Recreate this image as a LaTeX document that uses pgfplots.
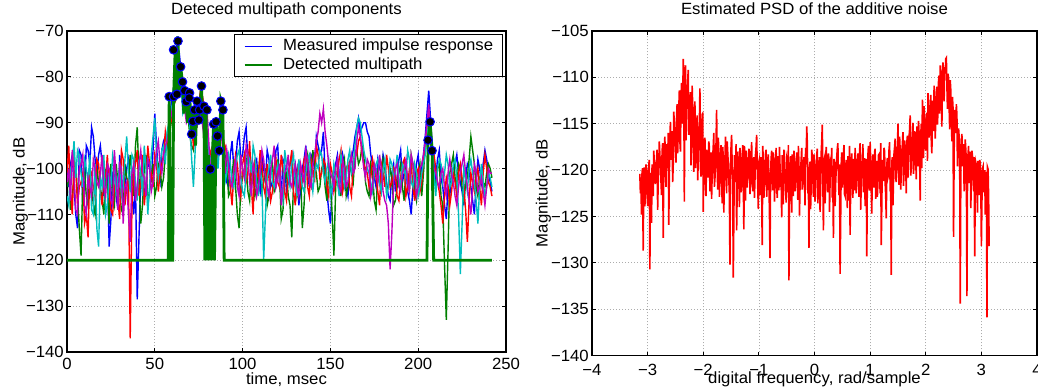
\documentclass[border=0pt]{standalone}
\usepackage{fontspec}
\setmainfont{Liberation Sans}[FakeStretch=1.03]
\usepackage{pgfplots}
\usepackage{pgfplotstable}
\pgfplotsset{compat=1.18}
\definecolor{mblue}{rgb}{0,0,1}
\definecolor{mgreen}{rgb}{0,0.5,0}
\definecolor{mred}{rgb}{1,0,0}
\definecolor{mcyan}{rgb}{0,0.75,0.75}
\definecolor{mmag}{rgb}{0.75,0,0.75}

\pgfplotstableread{
t b g r c m
0 -98 -104 -101 -106 -103
1 -104 -101 -95 -108 -100
2 -99 -109 -105 -100 -107
3 -97 -106 -110 -99 -96
4 -104 -102 -98 -94 -101
5 -110 -99 -100 -102 -109
6 -113 -106 -108 -96 -110
7 -96 -113 -104 -97 -100
8 -97 -119 -103 -101 -99
9 -108 -102 -101 -104 -97
10 -105 -100 -112 -98 -108
11 -95 -106 -110 -100 -110
12 -96 -108 -115 -103 -102
13 -99 -101 -100 -97 -104
14 -91 -104 -101 -109 -106
15 -93 -108 -104 -110 -98
16 -98 -110 -106 -99 -100
17 -101 -100 -98 -113 -103
18 -97 -103 -99 -117 -104
19 -95 -104 -105 -102 -101
20 -99 -107 -108 -104 -97
21 -106 -110 -102 -97 -104
22 -103 -100 -102 -110 -106
23 -100 -104 -97 -108 -99
24 -117 -112 -105 -101 -100
25 -111 -99 -109 -104 -107
26 -101 -106 -110 -97 -108
27 -100 -108 -104 -99 -96
28 -106 -99 -103 -106 -102
29 -109 -103 -107 -102 -109
30 -97 -105 -111 -100 -99
31 -101 -109 -96 -106 -100
32 -108 -110 -98 -104 -112
33 -105 -99 -108 -98 -104
34 -100 -102 -104 -93 -103
35 -98 -103 -102 -101 -110
36 -104 -97 -137 -105 -116
37 -106 -101 -108 -97 -101
38 -110 -106 -101 -98 -99
39 -103 -95 -99 -103 -107
40 -128.5 -91 -96 -107 -104
41 -115 -102 -106 -98 -99
42 -102 -112 -103 -101 -96
43 -99 -108 -97 -106 -101
44 -106 -100 -108 -95 -102
45 -104 -97 -104 -100 -106
46 -98 -108 -95 -110 -98
47 -100 -105 -99 -104 -99
48 -103 -102 -101 -97 -105
49 -96 -99 -104 -93 -103
50 -88 -106 -97 -89 -100
51 -95 -104 -99 -97 -96
52 -101 -99 -105 -102 -94
53 -103 -100 -101 -99 -99
54 -96 -104 -99 -96 -101
55 -94 -102 -97 -95 -97
56 -93 -97 -92 -99 -95
57 -95 -93 -95 -92 -94
58 -91 -95 -94 -90 -92
59 -87 -91 -90 -88 -89
60 -84 -88 -89 -86 -87
61 -82 -86 -86 -84 -85
62 -80 -85 -84 -82 -83
63 -77 -80 -82 -79 -81
64 -75 -78 -80 -77 -79
65 -79 -83 -81 -82 -82
66 -82 -86 -84 -88 -85
67 -84 -85 -86 -87 -87
68 -86 -84 -88 -85 -90
69 -88 -89 -88 -88 -89
70 -90 -93 -87 -91 -88
71 -92 -95 -91 -98 -90
72 -93 -96 -95 -104 -92
73 -90 -92 -93 -96 -91
74 -87 -89 -90 -88 -91
75 -85 -87 -86 -86 -89
76 -84 -86 -83 -85 -88
77 -86 -88 -84 -87 -90
78 -88 -91 -86 -90 -93
79 -91 -91 -93 -92 -91
80 -95 -92 -99 -94 -89
81 -97 -97 -98 -97 -96
82 -98 -101 -96 -99 -102
83 -95 -98 -95 -95 -99
84 -92 -95 -94 -91 -97
85 -94 -94 -96 -96 -96
86 -97 -93 -98 -100 -95
87 -93 -90 -95 -94 -94
88 -90 -88 -92 -89 -93
89 -95 -93 -94 -96 -97
90 -99 -97 -95 -103 -101
91 -103 -99 -97 -101 -96
92 -104 -106 -100 -97 -99
93 -97 -105 -104 -99 -103
94 -94 -101 -108 -103 -104
95 -100 -98 -101 -104 -100
96 -99 -104 -97 -100 -98
97 -94 -110 -99 -97 -104
98 -92 -113 -104 -96 -106
99 -98 -104 -106 -102 -97
100 -97 -102 -99 -105 -100
101 -93 -100 -97 -106 -102
102 -91 -98 -103 -101 -95
103 -98 -105 -101 -97 -97
104 -96 -107 -94 -98 -103
105 -100 -99 -104 -101 -106
106 -103 -100 -110 -95 -99
107 -99 -106 -98 -97 -101
108 -98 -104 -101 -103 -106
109 -103 -101 -102 -106 -104
110 -105 -97 -96 -100 -101
111 -97 -105 -99 -103 -96
112 -100 -103 -104 -120 -98
113 -103 -100 -106 -110 -102
114 -96 -108 -99 -102 -104
115 -98 -106 -102 -100 -106
116 -104 -101 -107 -97 -100
117 -103 -99 -105 -103 -98
118 -101 -105 -100 -104 -95
119 -96 -104 -98 -101 -104
120 -95 -98 -103 -99 -102
121 -103 -101 -104 -102 -99
122 -106 -111 -97 -105 -108
123 -98 -109 -100 -107 -104
124 -99 -102 -105 -96 -101
125 -105 -101 -107 -99 -100
126 -103 -106 -101 -102 -97
127 -99 -108 -99 -104 -103
128 -97 -115 -96 -99 -104
129 -104 -103 -105 -97 -101
130 -102 -100 -108 -103 -99
131 -100 -106 -101 -106 -104
132 -108 -104 -99 -98 -106
133 -105 -100 -104 -101 -99
134 -100 -113 -103 -104 -101
135 -98 -108 -98 -105 -103
136 -95 -99 -97 -101 -96
137 -101 -97 -104 -98 -98
138 -104 -103 -106 -97 -103
139 -97 -104 -98 -102 -104
140 -98 -96 -100 -105 -99
141 -100 -99 -103 -101 -97
142 -93 -101 -95 -99 -94
143 -95 -105 -97 -100 -92
144 -97 -104 -102 -96 -88
145 -96 -100 -101 -97 -90
146 -92 -99 -98 -101 -87
147 -101 -104 -99 -103 -92
148 -105 -107 -104 -100 -95
149 -109 -100 -106 -98 -99
150 -112 -102 -99 -106 -101
151 -104 -110 -101 -104 -102
152 -101 -119 -105 -99 -104
153 -99 -104 -103 -101 -100
154 -97 -100 -101 -103 -98
155 -101 -103 -98 -106 -104
156 -103 -106 -96 -97 -105
157 -97 -100 -105 -99 -98
158 -99 -98 -103 -104 -100
159 -104 -106 -100 -102 -104
160 -106 -104 -99 -98 -103
161 -100 -99 -104 -96 -99
162 -98 -101 -106 -101 -97
163 -96 -103 -99 -100 -101
164 -93 -97 -96 -95 -100
165 -91 -96 -97 -91 -94
166 -89 -99 -94 -89 -91
167 -92 -98 -93 -90 -93
168 -91 -95 -97 -93 -96
169 -90 -97 -99 -96 -100
170 -90 -103 -100 -98 -102
171 -92 -105 -101 -100 -98
172 -93 -106 -104 -101 -99
173 -97 -99 -102 -103 -106
174 -99 -101 -98 -105 -104
175 -102 -107 -100 -101 -99
176 -104 -109 -102 -99 -101
177 -98 -101 -105 -98 -103
178 -100 -103 -108 -103 -97
179 -101 -105 -99 -105 -100
180 -97 -98 -101 -100 -105
181 -99 -100 -104 -98 -107
182 -103 -105 -97 -106 -108
183 -106 -104 -100 -104 -112
184 -107 -100 -104 -98 -122
185 -101 -102 -103 -99 -114
186 -99 -108 -100 -102 -103
187 -105 -107 -101 -101 -100
188 -102 -104 -106 -97 -99
189 -98 -101 -107 -102 -104
190 -96 -99 -102 -104 -105
191 -103 -104 -99 -99 -101
192 -101 -107 -98 -100 -100
193 -99 -100 -106 -102 -98
194 -105 -102 -104 -96 -103
195 -107 -105 -100 -98 -105
196 -110 -97 -99 -103 -97
197 -104 -99 -104 -104 -99
198 -103 -105 -107 -99 -102
199 -99 -107 -101 -101 -106
200 -97 -101 -100 -106 -104
201 -102 -99 -105 -104 -100
202 -100 -106 -103 -101 -99
203 -97 -101 -98 -99 -97
204 -93 -95 -96 -97 -94
205 -88 -93 -92 -93 -90
206 -83 -91 -88 -90 -86
207 -89 -94 -92 -92 -92
208 -95 -98 -97 -94 -99
209 -99 -102 -97 -101 -100
210 -102 -104 -100 -106 -101
211 -98 -100 -103 -100 -103
212 -96 -99 -105 -98 -104
213 -102 -106 -108 -99 -101
214 -104 -108 -112 -103 -100
215 -108 -121 -106 -101 -104
216 -111 -133 -102 -97 -106
217 -104 -118 -104 -99 -101
218 -106 -101 -108 -104 -98
219 -101 -99 -105 -103 -101
220 -100 -97 -101 -99 -103
221 -99 -102 -103 -98 -106
222 -97 -104 -106 -102 -108
223 -101 -99 -101 -110 -104
224 -103 -100 -99 -123 -101
225 -105 -104 -102 -112 -99
226 -108 -107 -104 -100 -97
227 -102 -103 -109 -102 -101
228 -99 -102 -116 -105 -104
229 -100 -98 -107 -100 -107
230 -104 -93 -101 -98 -110
231 -107 -96 -103 -101 -104
232 -110 -99 -105 -103 -99
233 -103 -104 -102 -107 -101
234 -98 -106 -100 -112 -105
235 -100 -102 -104 -104 -104
236 -103 -101 -108 -99 -102
237 -99 -103 -101 -103 -105
238 -96 -104 -97 -106 -108
239 -98 -101 -100 -104 -104
240 -101 -99 -103 -101 -100
241 -103 -100 -104 -102 -101
242 -105 -102 -106 -104 -101
}\leftdata

\pgfplotstableread{
x y
-3.14 -120.4
-3.13 -122.5
-3.12 -121.8
-3.11 -124.8
-3.10 -120.2
-3.09 -119.8
-3.08 -128.7
-3.07 -121.5
-3.06 -119.7
-3.05 -123.9
-3.04 -122.6
-3.03 -119.4
-3.02 -120.1
-3.01 -121.8
-3.00 -123.9
-2.99 -120.6
-2.98 -119.5
-2.97 -118.9
-2.96 -130.7
-2.95 -122.4
-2.94 -120.3
-2.93 -125.7
-2.92 -119.4
-2.91 -120.0
-2.90 -122.8
-2.89 -117.9
-2.88 -119.2
-2.87 -121.1
-2.86 -121.5
-2.85 -119.5
-2.84 -118.9
-2.83 -117.8
-2.82 -124.3
-2.81 -121.3
-2.80 -119.6
-2.79 -116.9
-2.78 -118.4
-2.77 -119.3
-2.76 -121.2
-2.75 -122.7
-2.74 -118.0
-2.73 -117.1
-2.72 -127.3
-2.71 -119.9
-2.70 -117.6
-2.69 -116.4
-2.68 -120.4
-2.67 -121.8
-2.66 -117.2
-2.65 -118.3
-2.64 -119.8
-2.63 -116.0
-2.62 -125.9
-2.61 -120.6
-2.60 -116.5
-2.59 -114.8
-2.58 -118.9
-2.57 -117.5
-2.56 -115.8
-2.55 -121.3
-2.54 -119.4
-2.53 -113.7
-2.52 -115.1
-2.51 -116.4
-2.50 -117.8
-2.49 -119.2
-2.48 -114.3
-2.47 -112.9
-2.46 -118.2
-2.45 -115.8
-2.44 -113.5
-2.43 -111.4
-2.42 -116.9
-2.41 -118.0
-2.40 -112.2
-2.39 -110.6
-2.38 -115.0
-2.37 -113.5
-2.36 -108.0
-2.35 -111.0
-2.34 -123.4
-2.33 -109.4
-2.32 -108.7
-2.31 -116.8
-2.30 -113.9
-2.29 -111.7
-2.28 -110.5
-2.27 -109.2
-2.26 -116.2
-2.25 -114.9
-2.24 -112.8
-2.23 -111.6
-2.22 -119.5
-2.21 -115.4
-2.20 -110.9
-2.19 -113.1
-2.18 -117.3
-2.17 -120.2
-2.16 -114.2
-2.15 -112.6
-2.14 -119.8
-2.13 -117.8
-2.12 -115.6
-2.11 -114.1
-2.10 -121.1
-2.09 -118.9
-2.08 -116.0
-2.07 -115.2
-2.06 -111.2
-2.05 -119.8
-2.04 -120.7
-2.03 -116.7
-2.02 -114.0
-2.01 -113.9
-2.00 -124.5
-1.99 -119.3
-1.98 -117.2
-1.97 -116.5
-1.96 -121.4
-1.95 -122.8
-1.94 -117.8
-1.93 -118.3
-1.92 -119.6
-1.91 -120.8
-1.90 -116.9
-1.89 -117.6
-1.88 -122.3
-1.87 -119.4
-1.86 -118.1
-1.85 -123.1
-1.84 -120.5
-1.83 -118.7
-1.82 -117.4
-1.81 -116.0
-1.80 -121.8
-1.79 -120.9
-1.78 -118.6
-1.77 -117.1
-1.76 -113.5
-1.75 -119.6
-1.74 -122.1
-1.73 -116.5
-1.72 -118.0
-1.71 -122.9
-1.70 -120.9
-1.69 -119.0
-1.68 -117.3
-1.67 -120.4
-1.66 -123.6
-1.65 -117.5
-1.64 -118.7
-1.63 -124.6
-1.62 -120.2
-1.61 -118.8
-1.60 -116.4
-1.59 -120.1
-1.58 -122.5
-1.57 -116.9
-1.56 -118.1
-1.55 -119.5
-1.54 -121.0
-1.53 -122.7
-1.52 -130.2
-1.51 -119.2
-1.50 -117.5
-1.49 -116.2
-1.48 -119.9
-1.47 -121.5
-1.46 -131.6
-1.45 -125.0
-1.44 -118.4
-1.43 -119.7
-1.42 -121.3
-1.41 -117.2
-1.40 -126.5
-1.39 -122.1
-1.38 -118.0
-1.37 -119.4
-1.36 -120.7
-1.35 -124.0
-1.34 -117.6
-1.33 -119.0
-1.32 -122.4
-1.31 -121.6
-1.30 -118.9
-1.29 -117.3
-1.28 -121.2
-1.27 -126.4
-1.26 -117.4
-1.25 -119.8
-1.24 -123.3
-1.23 -117.9
-1.22 -119.0
-1.21 -121.9
-1.20 -120.8
-1.19 -119.3
-1.18 -117.7
-1.17 -118.1
-1.16 -122.6
-1.15 -120.5
-1.14 -118.5
-1.13 -117.0
-1.12 -121.4
-1.11 -122.3
-1.10 -119.2
-1.09 -118.6
-1.08 -123.0
-1.07 -120.9
-1.06 -118.3
-1.05 -117.5
-1.04 -116.2
-1.03 -119.6
-1.02 -121.9
-1.01 -124.2
-1.00 -119.1
-0.99 -118.8
-0.98 -122.7
-0.97 -120.3
-0.96 -118.6
-0.95 -121.9
-0.94 -128.1
-0.93 -117.4
-0.92 -119.4
-0.91 -123.0
-0.90 -121.6
-0.89 -119.6
-0.88 -118.2
-0.87 -117.8
-0.86 -122.9
-0.85 -121.4
-0.84 -119.0
-0.83 -118.3
-0.82 -121.3
-0.81 -124.4
-0.80 -129.5
-0.79 -120.5
-0.78 -118.8
-0.77 -117.9
-0.76 -120.6
-0.75 -122.2
-0.74 -118.1
-0.73 -119.1
-0.72 -123.4
-0.71 -121.3
-0.70 -119.3
-0.69 -117.6
-0.68 -121.7
-0.67 -123.0
-0.66 -118.5
-0.65 -119.9
-0.64 -122.2
-0.63 -117.5
-0.62 -119.6
-0.61 -121.8
-0.60 -120.9
-0.59 -125.1
-0.58 -118.4
-0.57 -119.3
-0.56 -123.7
-0.55 -117.8
-0.54 -119.2
-0.53 -120.9
-0.52 -121.5
-0.51 -123.5
-0.50 -118.7
-0.49 -119.0
-0.48 -122.4
-0.47 -117.3
-0.46 -131.9
-0.45 -122.9
-0.44 -119.8
-0.43 -118.5
-0.42 -121.2
-0.41 -124.6
-0.40 -118.3
-0.39 -119.7
-0.38 -122.8
-0.37 -117.9
-0.36 -119.5
-0.35 -122.3
-0.34 -121.0
-0.33 -119.4
-0.32 -118.1
-0.31 -121.2
-0.30 -123.2
-0.29 -117.4
-0.28 -119.4
-0.27 -124.9
-0.26 -121.6
-0.25 -120.1
-0.24 -118.9
-0.23 -117.6
-0.22 -122.1
-0.21 -121.4
-0.20 -119.7
-0.19 -118.6
-0.18 -120.8
-0.17 -123.8
-0.16 -117.6
-0.15 -119.3
-0.14 -115.3
-0.13 -117.0
-0.12 -122.5
-0.11 -121.1
-0.10 -128.4
-0.09 -119.7
-0.08 -119.1
-0.07 -124.2
-0.06 -121.7
-0.05 -117.8
-0.04 -118.6
-0.03 -120.6
-0.02 -122.9
-0.01 -118.3
0.00 -119.8
0.01 -123.4
0.02 -121.3
0.03 -119.6
0.04 -118.4
0.05 -117.7
0.06 -123.6
0.07 -121.2
0.08 -119.5
0.09 -118.6
0.10 -124.5
0.11 -122.0
0.12 -118.2
0.13 -116.9
0.14 -115.1
0.15 -120.9
0.16 -126.5
0.17 -119.0
0.18 -118.7
0.19 -123.6
0.20 -121.8
0.21 -117.5
0.22 -119.3
0.23 -120.7
0.24 -122.4
0.25 -118.2
0.26 -118.9
0.27 -124.5
0.28 -121.1
0.29 -119.3
0.30 -119.6
0.31 -117.6
0.32 -123.0
0.33 -121.6
0.34 -127.3
0.35 -118.8
0.36 -119.2
0.37 -123.9
0.38 -121.5
0.39 -119.9
0.40 -118.6
0.41 -117.7
0.42 -117.1
0.43 -121.0
0.44 -122.7
0.45 -119.4
0.46 -131.2
0.47 -125.3
0.48 -119.4
0.49 -118.1
0.50 -121.9
0.51 -120.4
0.52 -118.3
0.53 -117.3
0.54 -122.6
0.55 -122.8
0.56 -119.9
0.57 -118.9
0.58 -121.0
0.59 -124.1
0.60 -118.5
0.61 -119.7
0.62 -123.3
0.63 -117.4
0.64 -127.0
0.65 -121.5
0.66 -119.1
0.67 -118.2
0.68 -121.4
0.69 -123.0
0.70 -118.8
0.71 -119.8
0.72 -122.2
0.73 -117.6
0.74 -119.5
0.75 -122.5
0.76 -120.7
0.77 -119.2
0.78 -118.2
0.79 -120.8
0.80 -122.9
0.81 -118.0
0.82 -117.1
0.83 -124.3
0.84 -121.6
0.85 -119.5
0.86 -119.0
0.87 -117.2
0.88 -122.4
0.89 -121.7
0.90 -118.7
0.91 -123.9
0.92 -121.2
0.93 -118.8
0.94 -129.3
0.95 -120.6
0.96 -118.4
0.97 -117.4
0.98 -121.8
0.99 -122.2
1.00 -117.0
1.01 -119.0
1.02 -122.1
1.03 -124.7
1.04 -119.3
1.05 -118.3
1.06 -120.6
1.07 -121.9
1.08 -118.1
1.09 -117.7
1.10 -123.1
1.11 -120.3
1.12 -119.0
1.13 -122.9
1.14 -121.4
1.15 -118.4
1.16 -118.3
1.17 -119.9
1.18 -122.5
1.19 -117.1
1.20 -128.1
1.21 -123.6
1.22 -118.9
1.23 -119.4
1.24 -121.2
1.25 -117.6
1.26 -118.0
1.27 -121.4
1.28 -122.7
1.29 -125.2
1.30 -119.4
1.31 -118.7
1.32 -120.8
1.33 -120.5
1.34 -117.8
1.35 -117.0
1.36 -122.0
1.37 -121.9
1.38 -131.3
1.39 -119.1
1.40 -118.6
1.41 -123.8
1.42 -121.1
1.43 -118.2
1.44 -117.5
1.45 -116.6
1.46 -120.9
1.47 -121.3
1.48 -118.2
1.49 -118.5
1.50 -115.0
1.51 -119.9
1.52 -121.6
1.53 -116.4
1.54 -117.9
1.55 -122.1
1.56 -120.3
1.57 -118.0
1.58 -117.2
1.59 -115.9
1.60 -121.7
1.61 -120.2
1.62 -116.8
1.63 -117.6
1.64 -119.5
1.65 -122.5
1.66 -117.0
1.67 -116.3
1.68 -120.8
1.69 -118.9
1.70 -116.4
1.71 -115.6
1.72 -114.1
1.73 -120.6
1.74 -119.7
1.75 -117.3
1.76 -116.2
1.77 -114.9
1.78 -120.4
1.79 -119.2
1.80 -115.8
1.81 -116.6
1.82 -118.9
1.83 -121.0
1.84 -115.3
1.85 -117.1
1.86 -119.6
1.87 -114.7
1.88 -116.1
1.89 -118.9
1.90 -123.3
1.91 -116.3
1.92 -115.0
1.93 -119.8
1.94 -112.4
1.95 -115.5
1.96 -118.7
1.97 -113.1
1.98 -114.6
1.99 -117.4
2.00 -117.9
2.01 -114.9
2.02 -113.8
2.03 -119.0
2.04 -111.7
2.05 -113.6
2.06 -116.5
2.07 -115.3
2.08 -113.2
2.09 -111.9
2.10 -117.0
2.11 -118.2
2.12 -112.5
2.13 -113.8
2.14 -115.8
2.15 -110.9
2.16 -111.9
2.17 -116.6
2.18 -114.7
2.19 -112.7
2.20 -111.0
2.21 -115.1
2.22 -113.6
2.23 -110.4
2.24 -109.8
2.25 -113.9
2.26 -108.7
2.27 -110.1
2.28 -112.4
2.29 -115.3
2.30 -109.3
2.31 -108.4
2.32 -111.6
2.33 -112.6
2.34 -108.9
2.35 -109.6
2.36 -108.0
2.37 -107.9
2.38 -110.8
2.39 -113.4
2.40 -109.6
2.41 -110.2
2.42 -113.0
2.43 -115.6
2.44 -110.3
2.45 -111.4
2.46 -114.2
2.47 -116.9
2.48 -112.1
2.49 -113.3
2.50 -127.2
2.51 -118.1
2.52 -113.5
2.53 -114.7
2.54 -116.0
2.55 -112.9
2.56 -114.1
2.57 -119.6
2.58 -117.5
2.59 -115.5
2.60 -116.4
2.61 -117.8
2.62 -134.4
2.63 -120.4
2.64 -116.9
2.65 -116.1
2.66 -119.6
2.67 -118.4
2.68 -117.2
2.69 -122.3
2.70 -120.8
2.71 -116.7
2.72 -117.8
2.73 -119.2
2.74 -133.6
2.75 -121.6
2.76 -118.3
2.77 -117.4
2.78 -121.4
2.79 -119.7
2.80 -118.0
2.81 -124.1
2.82 -120.6
2.83 -117.9
2.84 -118.5
2.85 -120.1
2.86 -122.3
2.87 -118.6
2.88 -129.3
2.89 -121.8
2.90 -119.2
2.91 -119.5
2.92 -121.5
2.93 -124.6
2.94 -119.0
2.95 -120.3
2.96 -122.7
2.97 -118.9
2.98 -119.3
2.99 -121.5
3.00 -128.2
3.01 -123.3
3.02 -119.8
3.03 -119.6
3.04 -122.4
3.05 -121.1
3.06 -120.0
3.07 -124.8
3.08 -121.7
3.09 -120.2
3.10 -135.9
3.11 -119.7
3.12 -119.9
3.13 -122.9
3.14 -128.2
}\rightdata

\pgfplotsset{
  mat/.style={
    scale only axis,
    font=\fontsize{16.3}{19}\selectfont,
    axis line style={line width=1.5bp},
    tick align=inside,
    major tick length=4bp,
    tick style={line width=1bp, black},
    grid=major,
    grid style={dash pattern=on 1bp off 2bp, gray!65, line width=0.7bp},
    every tick label/.append style={inner sep=0pt},
    yticklabel style={xshift=-3bp},
    title style={at={(axis description cs:0.5,1)}, anchor=base, yshift=10.8bp, inner sep=0pt},
  }
}

\begin{document}
\begin{tikzpicture}
\begin{axis}[mat,
  at={(67bp,40bp)}, anchor=south west,
  width=439bp, height=321bp,
  xmin=0, xmax=250, ymin=-140, ymax=-70,
  xtick={0,50,100,150,200,250},
  xticklabels={0,50,100,150,200,250},
  ytick={-140,-130,-120,-110,-100,-90,-80,-70},
  yticklabels={−140,−130,−120,−110,−100,−90,−80,−70},
  xticklabel style={yshift=-6.3bp},
  title={Deteced multipath components},
  xlabel={time, msec},
  ylabel={Magnitude, dB},
  x label style={at={(axis description cs:0.5,-0.102)}, anchor=base, inner sep=0pt},
  y label style={at={(axis description cs:-0.0968,0.5)}, anchor=base, inner sep=0pt},
  legend style={at={(axis description cs:1,1)}, anchor=north east,
    xshift=-3.3bp, yshift=-3.3bp, draw=black, line width=1bp,
    inner xsep=9bp, inner ysep=4bp, row sep=2.8bp,
    nodes={inner sep=0pt, text height=12bp, text depth=3.5bp}},
  legend cell align=left,
  legend image code/.code={\draw[#1, line width=1.6bp] (0bp,0bp) -- (27.4bp,0bp); \path[draw=none] (0bp,0bp) -- (38.4bp,0bp);},
]
\addplot[mblue, line width=1.4bp, forget plot] table[x=t, y=b]{\leftdata};
\addplot[mgreen, line width=1.4bp, forget plot] table[x=t, y=g]{\leftdata};
\addplot[mred, line width=1.4bp, forget plot] table[x=t, y=r]{\leftdata};
\addplot[mcyan, line width=1.4bp, forget plot] table[x=t, y=c]{\leftdata};
\addplot[mmag, line width=1.4bp, forget plot] table[x=t, y=m]{\leftdata};
\addplot[mgreen, line width=2.8bp, forget plot] coordinates {
(0,-120) (57.6,-120) (58.2,-84.3) (59.4,-120) (60.2,-120) (60.7,-84.3) (61.6,-74.1) (62.6,-83.8) (62.9,-71.2) (63.2,-72.2) (64.2,-83) (64.7,-77.8) (65.8,-81.1) (66.5,-88) (67,-83) (67.9,-85.4) (68.7,-90) (69.6,-84.6) (69.8,-83.5) (71,-92.5) (71.7,-89.7) (72.6,-87.2) (73.2,-95) (74,-85.3) (75.1,-89.4) (75.5,-87.2) (76.6,-82) (77.3,-90) (78,-86.4) (78.5,-120) (79.2,-87.2) (79.8,-120) (80.5,-97) (81,-120) (81.6,-100.1) (82.2,-120) (83,-95) (83.5,-90.3) (84,-120) (84.9,-89.8) (85.7,-92.9) (86.7,-96.1) (87.6,-85.3) (88.8,-87.2) (89.5,-120) (205,-120) (205.6,-93.8) (206.8,-89.8) (207.9,-96.1) (208.8,-120) (242,-120)
};
\addplot[only marks, mark=*, mark size=4.3bp, mark options={fill=black, draw=mblue, line width=1bp}, forget plot] coordinates {
(58.2,-84.3) (60.7,-84.3) (60.7,-74.1) (63.2,-72.2) (64.7,-77.8) (65.8,-81.1) (62.6,-83.8) (67,-83) (67.9,-85.4) (69.8,-83.5) (69.6,-84.6) (71,-92.5) (71.7,-89.7) (72.6,-87.2) (74,-85.3) (75.1,-89.4) (75.5,-87.2) (76.6,-82) (78,-86.4) (79.7,-87.2) (81.6,-100.1) (83.5,-90.3) (84.9,-89.8) (85.7,-92.9) (86.7,-96.1) (87.6,-85.3) (88.8,-87.2) (205.6,-93.8) (206.8,-89.8) (207.9,-96.1)
};
\addlegendimage{mblue}
\addlegendentry{Measured impulse response}
\addlegendimage{mgreen}
\addlegendentry{Detected multipath}
\end{axis}

\begin{axis}[mat,
  at={(592bp,36.5bp)}, anchor=south west,
  width=445bp, height=324.5bp,
  xmin=-4, xmax=4, ymin=-140, ymax=-105,
  xtick={-4,-3,-2,-1,0,1,2,3,4},
  xticklabels={−4,−3,−2,−1,0,1,2,3,4},
  ytick={-140,-135,-130,-125,-120,-115,-110,-105},
  yticklabels={−140,−135,−130,−125,−120,−115,−110,−105},
  xticklabel style={yshift=-8.3bp},
  title={Estimated PSD of the additive noise},
  xlabel={digital frequency, rad/sample},
  ylabel={Magnitude, dB},
  x label style={at={(axis description cs:0.5,-0.087)}, anchor=base, inner sep=0pt},
  y label style={at={(axis description cs:-0.1,0.5)}, anchor=base, inner sep=0pt},
]
\addplot[mred, line width=1.6bp] table[x=x, y=y]{\rightdata};
\end{axis}
\pgfresetboundingbox
\path[use as bounding box] (0bp,0bp) rectangle (1038bp,392bp);
\end{tikzpicture}
\end{document}
